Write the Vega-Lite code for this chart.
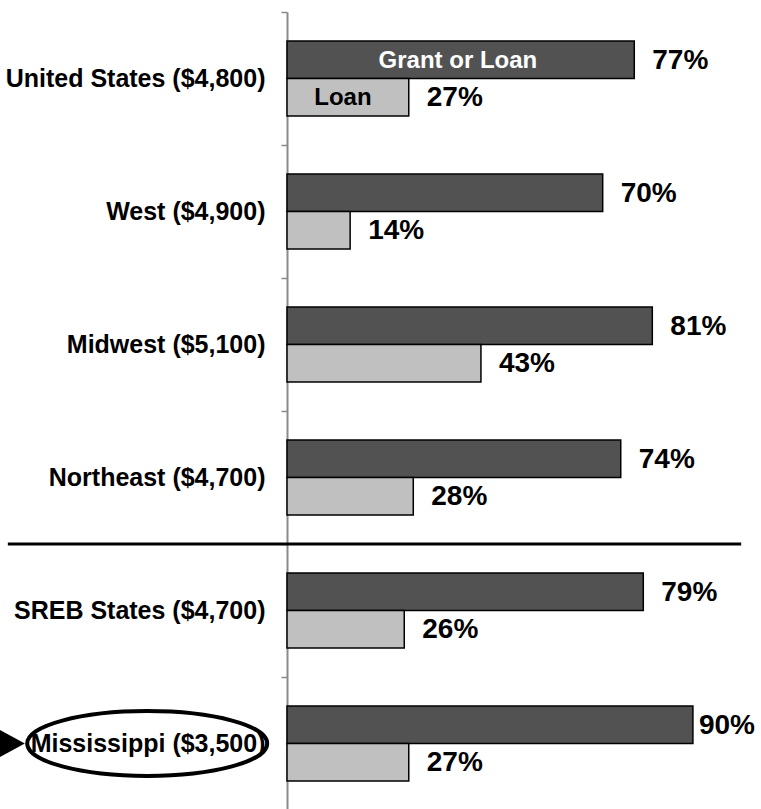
{
  "$schema": "https://vega.github.io/schema/vega-lite/v6.json",
  "autosize": "none",
  "width": 451,
  "height": 798,
  "padding": {"left": 287, "top": 12, "right": 23, "bottom": 0},
  "background": "white",
  "config": {"view": {"stroke": null}},
  "datasets": {
    "bars": [
      {"region": "United States ($4,800)", "type": "Grant or Loan", "pct": 0.77},
      {"region": "United States ($4,800)", "type": "Loan", "pct": 0.27},
      {"region": "West ($4,900)", "type": "Grant or Loan", "pct": 0.70},
      {"region": "West ($4,900)", "type": "Loan", "pct": 0.14},
      {"region": "Midwest ($5,100)", "type": "Grant or Loan", "pct": 0.81},
      {"region": "Midwest ($5,100)", "type": "Loan", "pct": 0.43},
      {"region": "Northeast ($4,700)", "type": "Grant or Loan", "pct": 0.74},
      {"region": "Northeast ($4,700)", "type": "Loan", "pct": 0.28},
      {"region": "SREB States ($4,700)", "type": "Grant or Loan", "pct": 0.79},
      {"region": "SREB States ($4,700)", "type": "Loan", "pct": 0.26},
      {"region": "Mississippi ($3,500)", "type": "Grant or Loan", "pct": 0.90},
      {"region": "Mississippi ($3,500)", "type": "Loan", "pct": 0.27}
    ],
    "inner": [
      {"region": "United States ($4,800)", "type": "Grant or Loan", "pos": 0.379, "text": "Grant or Loan"},
      {"region": "United States ($4,800)", "type": "Loan", "pos": 0.124, "text": "Loan"}
    ],
    "highlight": [
      {"region": "Mississippi ($3,500)", "ellipse": -0.31, "arrow": -0.609}
    ],
    "separator": [
      {"region": "SREB States ($4,700)", "from": -0.619, "to": 1.007}
    ]
  },
  "encoding": {
    "y": {
      "field": "region",
      "type": "nominal",
      "scale": {
        "domain": ["United States ($4,800)", "West ($4,900)", "Midwest ($5,100)", "Northeast ($4,700)", "SREB States ($4,700)", "Mississippi ($3,500)"],
        "paddingInner": 0,
        "paddingOuter": 0
      },
      "axis": {
        "title": null,
        "bandPosition": 0,
        "domainColor": "#8a8a8a",
        "domainWidth": 2,
        "tickColor": "#8a8a8a",
        "tickWidth": 1.5,
        "tickSize": 6,
        "labelFont": "Liberation Sans",
        "labelFontWeight": "bold",
        "labelFontSize": 25,
        "labelColor": "black",
        "labelPadding": 16,
        "labelLimit": 400
      }
    }
  },
  "layer": [
    {
      "data": {"name": "bars"},
      "mark": {"type": "bar", "stroke": "black", "strokeWidth": 1.5},
      "encoding": {
        "yOffset": {"field": "type", "type": "nominal", "scale": {"domain": ["Grant or Loan", "Loan"], "paddingInner": 0, "paddingOuter": 0.773}},
        "x": {"field": "pct", "type": "quantitative", "scale": {"domain": [0, 1]}, "axis": null},
        "color": {"field": "type", "type": "nominal", "scale": {"domain": ["Grant or Loan", "Loan"], "range": ["#525252", "#c0c0c0"]}, "legend": null}
      }
    },
    {
      "data": {"name": "bars"},
      "transform": [{"filter": "datum.pct < 0.85"}],
      "mark": {"type": "text", "align": "left", "baseline": "middle", "dx": 18, "dy": 1, "font": "Liberation Sans", "fontWeight": "bold", "fontSize": 28, "color": "black"},
      "encoding": {
        "yOffset": {"field": "type", "type": "nominal"},
        "x": {"field": "pct", "type": "quantitative"},
        "text": {"field": "pct", "type": "quantitative", "format": ".0%"}
      }
    },
    {
      "data": {"name": "bars"},
      "transform": [{"filter": "datum.pct >= 0.85"}],
      "mark": {"type": "text", "align": "left", "baseline": "middle", "dx": 6, "dy": 1, "font": "Liberation Sans", "fontWeight": "bold", "fontSize": 28, "color": "black"},
      "encoding": {
        "yOffset": {"field": "type", "type": "nominal"},
        "x": {"field": "pct", "type": "quantitative"},
        "text": {"field": "pct", "type": "quantitative", "format": ".0%"}
      }
    },
    {
      "data": {"name": "inner"},
      "mark": {"type": "text", "align": "center", "baseline": "middle", "dy": 1, "font": "Liberation Sans", "fontWeight": "bold", "fontSize": 24},
      "encoding": {
        "yOffset": {"field": "type", "type": "nominal"},
        "x": {"field": "pos", "type": "quantitative"},
        "text": {"field": "text", "type": "nominal"},
        "color": {"condition": {"test": "datum.type === 'Loan'", "value": "black"}, "value": "white"}
      }
    },
    {
      "data": {"name": "highlight"},
      "mark": {"type": "point", "shape": "M -1 0 A 1 0.27 0 1 0 1 0 A 1 0.27 0 1 0 -1 0 Z", "size": 57600, "filled": false, "stroke": "black", "strokeWidth": 4, "opacity": 1},
      "encoding": {
        "x": {"field": "ellipse", "type": "quantitative"}
      }
    },
    {
      "data": {"name": "highlight"},
      "mark": {"type": "point", "shape": "M -1 -1.08 L 1 0 L -1 1.08 Z", "size": 625, "filled": true, "color": "black", "opacity": 1},
      "encoding": {
        "x": {"field": "arrow", "type": "quantitative"}
      }
    },
    {
      "data": {"name": "separator"},
      "mark": {"type": "rule", "stroke": "black", "strokeWidth": 3},
      "encoding": {
        "y": {"field": "region", "type": "nominal", "bandPosition": 0},
        "x": {"field": "from", "type": "quantitative"},
        "x2": {"field": "to"}
      }
    }
  ]
}
